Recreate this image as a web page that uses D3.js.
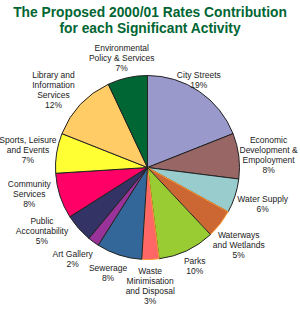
<!DOCTYPE html>
<html>
<head>
<meta charset="utf-8">
<script src="https://cdn.jsdelivr.net/npm/d3@7"></script>
<style>
	body{margin:0;background:#fff;}
	svg{display:block;}
</style>
</head>
<body>
<div id="chart"></div>
<script>
// data
var activities=[
	["City Streets"],
	["Economic","Development &","Empoloyment"],
	["Water Supply"],
	["Waterways","and Wetlands"],
	["Parks"],
	["Waste","Minimisation","and Disposal"],
	["Sewerage"],
	["Art Gallery"],
	["Public","Accountability"],
	["Community","Services"],
	["Sports, Leisure","and Events"],
	["Library and","Information","Services"],
	["Environmental","Policy & Services"]
];
var shares=[19,8,6,5,10,3,8,2,5,8,7,12,7];
var sliceColors=["#9999cc","#996666","#99cccc","#cc6633","#99cc33","#ff6666","#336699","#993399","#333366","#ff0066","#ffff33","#ffcc66","#006633"];
var titleLines=["The Proposed 2000/01 Rates Contribution","for each Significant Activity"];

var W=300,H=312;
var cx=147.5,cy=167.5,radius=92,labelRadius=118;
// small nudges for the label boxes (like excel best fit)
var nudge=[[-15,10],[4,2],[3,0],[-2,5.5],[-3,-8],[-1,0.5],[-3,-7],[-5.5,-4],[-17,-14.5],[-6,-10],[-3,0.5],[-8,3],[0,5.5]];
var orangeEdge={3:true,5:true};

var svg=d3.select("#chart").append("svg").attr("width",W).attr("height",H);

var title=svg.selectAll("text.title").data(titleLines).enter().append("text")
	.attr("class","title")
	.attr("x",W/2)
	.attr("y",function(d,i){return 17+i*15.5;})
	.attr("text-anchor","middle")
	.attr("font-family","'Liberation Sans',Arial,sans-serif")
	.attr("font-weight","bold").attr("font-size",14.5)
	.attr("fill","#006633")
	.text(function(d){return d;});
// shrink the first line so it fits about 274px like the original
var len=title.node().getComputedTextLength();
if(len>274){
	title.attr("font-size",Math.max(12,14.5*274/len));
}

var pie=d3.pie().sort(null).value(function(d){return d;});
var arcs=pie(shares);
var arc=d3.arc().innerRadius(0).outerRadius(radius);
var labelArc=d3.arc().innerRadius(labelRadius).outerRadius(labelRadius);

var g=svg.append("g").attr("transform","translate("+cx+","+cy+")");

g.selectAll("path").data(arcs).enter().append("path")
	.attr("d",arc)
	.attr("fill",function(d,i){return sliceColors[i];})
	.attr("stroke",function(d,i){return orangeEdge[i]?"#ff9933":"#222";})
	.attr("stroke-width",1)
	.attr("stroke-linejoin","round");

var lineH=10;
var labels=g.selectAll("g.lab").data(arcs).enter().append("g")
	.attr("class","lab")
	.attr("transform",function(d,i){
		var c=labelArc.centroid(d);
		return "translate("+(c[0]+nudge[i][0])+","+(c[1]+nudge[i][1])+")";
	});

labels.each(function(d,i){
	var lines=activities[i].concat([shares[i]+"%"]);
	var top=-(lines.length-1)*lineH/2;
	d3.select(this).selectAll("text").data(lines).enter().append("text")
		.attr("x",0)
		.attr("y",function(t,j){return top+j*lineH;})
		.attr("dy","0.35em")
		.attr("text-anchor","middle")
		.attr("font-family","'Liberation Sans',Arial,sans-serif")
		.attr("font-size",8.5)
		.attr("fill","#222")
		.text(function(t){return t;});
});
</script>
</body>
</html>
